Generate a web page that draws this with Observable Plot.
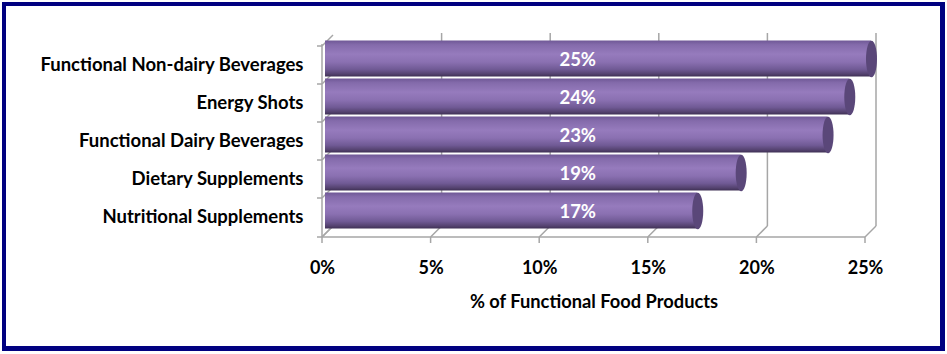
<!DOCTYPE html>
<html><head><meta charset="utf-8">
<script src="https://cdn.jsdelivr.net/npm/d3@7"></script>
<script src="https://cdn.jsdelivr.net/npm/@observablehq/plot@0.6"></script>
<style>
html,body{margin:0;padding:0;background:#fff;}
#chart{position:relative;width:947px;height:354px;overflow:hidden;}
#chart svg{display:block;}
#border{position:absolute;left:2px;top:2px;width:943px;height:349px;box-sizing:border-box;border:4px solid #000080;border-right-width:5px;border-bottom-width:5px;pointer-events:none;}
</style></head><body>
<div id="chart"><div id="border"></div></div>
<script>
const categories = ["Functional Non-dairy Beverages", "Energy Shots", "Functional Dairy Beverages", "Dietary Supplements", "Nutritional Supplements"];
const values = [25, 24, 23, 19, 17];
const valueLabels = ["25%", "24%", "23%", "19%", "17%"];
const xTicks = [0, 5, 10, 15, 20, 25];
const xTickLabels = ["0%", "5%", "10%", "15%", "20%", "25%"];
const axisTitle = "% of Functional Food Products";

const data = categories.map((c, i) => ({category: c, value: values[i], label: valueLabels[i]}));

const DX = 11, DY = -11;     // depth of the 3D box
const BX = 6, BY = -6.5;     // bars sit midway in depth
const FONT = "Lato, 'Open Sans', 'DejaVu Sans', sans-serif";
const GRID = "#a6a6a6";

function defs() {
  const d = d3.create("svg:defs");
  const g = d.append("linearGradient").attr("id", "cyl").attr("x1", 0).attr("y1", 0).attr("x2", 0).attr("y2", 1);
  [[0, "#6f5896"], [0.12, "#846bab"], [0.38, "#967bbd"], [0.6, "#8a70b1"], [0.8, "#705a95"], [0.93, "#54426f"], [1, "#3e3054"]]
    .forEach(([o, c]) => g.append("stop").attr("offset", o).attr("stop-color", c));
  return d.node();
}

function walls(index, scales, values, dims) {
  const {x, y} = scales;
  const top = dims.marginTop, bottom = dims.height - dims.marginBottom;
  const x0 = x(0), x1 = x(xTicks[xTicks.length - 1]);
  const g = d3.create("svg:g").attr("stroke", GRID).attr("stroke-width", 1.5).attr("fill", "none");
  const line = (a, b, c, e) => g.append("line").attr("x1", a).attr("y1", b).attr("x2", c).attr("y2", e);
  for (const t of xTicks) {
    const xt = x(t);
    if (t !== 0) line(xt + DX, top + DY, xt + DX, bottom + DY);
    line(xt, bottom, xt + DX, bottom + DY);
    line(xt, bottom, xt, bottom + 6);
  }
  line(x0, bottom, x1, bottom);
  line(x0, top, x0, bottom);
  const bounds = categories.map(c => y(c)).concat([bottom]);
  for (const yb of bounds) {
    line(x0 - 5, yb, x0, yb);
    line(x0, yb, x0 + DX, yb + DY);
  }
  return g.node();
}

const capSymbol = {
  draw(ctx) {
    const rx = 5.5, ry = 18.3, k = 0.5523;
    ctx.moveTo(0, -ry);
    ctx.bezierCurveTo(rx * k, -ry, rx, -ry * k, rx, 0);
    ctx.bezierCurveTo(rx, ry * k, rx * k, ry, 0, ry);
    ctx.bezierCurveTo(-rx * k, ry, -rx, ry * k, -rx, 0);
    ctx.bezierCurveTo(-rx, -ry * k, -rx * k, -ry, 0, -ry);
    ctx.closePath();
  }
};

const chart = Plot.plot({
  width: 947,
  height: 354,
  marginLeft: 322,
  marginRight: 82,
  marginTop: 44,
  marginBottom: 117,
  style: {fontFamily: FONT, fontSize: "18px", fontWeight: "bold", color: "#000", background: "transparent"},
  x: {domain: [0, 25]},
  y: {domain: categories, padding: 0, label: null},
  marks: [
    defs,
    walls,
    Plot.barX(data, {x1: 0, x2: "value", y: "category", fill: "url(#cyl)", dx: BX, dy: BY, insetTop: 1, insetBottom: 1, insetLeft: -3}),
    Plot.dot(data, {x: "value", y: "category", symbol: capSymbol, r: 5, fill: "#5a4779", stroke: "none", dx: BX, dy: BY}),
    Plot.text(data, {x: () => 11.75, y: "category", text: "label", fill: "#fff", dy: -5, fontSize: 18.5, fontWeight: "bold"}),
    Plot.axisY({tickSize: 0, tickPadding: 19, label: null, fill: "#000", fontSize: 18.5}),
    Plot.axisX({ticks: xTicks, tickFormat: (d, i) => xTickLabels[xTicks.indexOf(d)], tickSize: 0, tickPadding: 24, label: null, fill: "#000", fontSize: 18}),
    Plot.text([axisTitle], {frameAnchor: "bottom", dy: 70, fill: "#000", fontSize: 18.3, fontWeight: "bold"})
  ]
});
document.getElementById("chart").prepend(chart);
</script>
</body></html>
